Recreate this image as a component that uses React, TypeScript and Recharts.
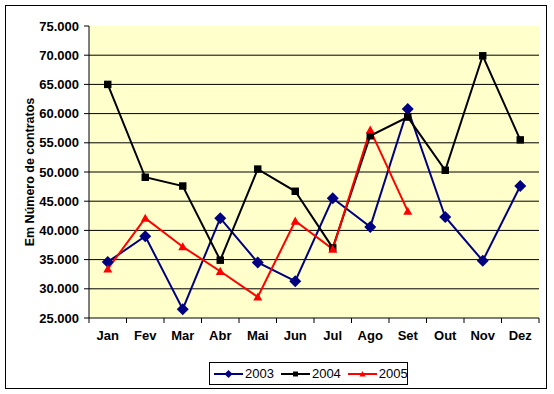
import React from "react";
import {
  LineChart,
  Line,
  XAxis,
  YAxis,
  CartesianGrid,
  ReferenceLine,
  Legend,
} from "recharts";

const months = ["Jan", "Fev", "Mar", "Abr", "Mai", "Jun", "Jul", "Ago", "Set", "Out", "Nov", "Dez"];
const v2003 = [34600, 39000, 26500, 42100, 34500, 31300, 45500, 40600, 60800, 42300, 34800, 47600];
const v2004 = [65000, 49100, 47600, 34900, 50500, 46700, 37000, 56200, 59400, 50300, 69900, 55500];
const v2005 = [33400, 42100, 37200, 33000, 28600, 41600, 36800, 57200, 43300, null, null, null];
const yTicks = [25000, 30000, 35000, 40000, 45000, 50000, 55000, 60000, 65000, 70000, 75000];
const gridValues = [30000, 35000, 40000, 45000, 50000, 55000, 60000, 65000, 70000];

const series = [
  { key: "2003", color: "#000080", shape: "diamond" },
  { key: "2004", color: "#000000", shape: "square" },
  { key: "2005", color: "#FF0000", shape: "triangle" },
];

const data = months.map((m, i) => ({
  month: m,
  "2003": v2003[i],
  "2004": v2004[i],
  "2005": v2005[i],
}));

const W = 554;
const H = 394;
const MARGIN = { top: 26, right: 15, left: 0, bottom: 0 };
const Y_W = 89;
const X_H = 76;
const BAND = (W - MARGIN.left - MARGIN.right - Y_W) / months.length;
const FONT = "Arial, 'Liberation Sans', sans-serif";

const fmt = (v: number) => {
  const s = String(v);
  return s.length > 3 ? s.slice(0, s.length - 3) + "." + s.slice(-3) : s;
};

function Marker({ shape, color, cx, cy, s }: any) {
  if (shape === "diamond") {
    return <polygon points={`${cx},${cy - s} ${cx + s},${cy} ${cx},${cy + s} ${cx - s},${cy}`} fill={color} />;
  }
  if (shape === "square") {
    const h = s * 0.62;
    return <rect x={cx - h} y={cy - h} width={h * 2} height={h * 2} fill={color} />;
  }
  const h = s * 0.75;
  return <polygon points={`${cx},${cy - h} ${cx + h},${cy + h * 0.8} ${cx - h},${cy + h * 0.8}`} fill={color} />;
}

const makeDot = (shape: string, color: string) => (props: any) => {
  const { cx, cy, index, value } = props;
  if (cx == null || cy == null || value == null) return <g key={`n-${index}`} />;
  return (
    <g key={`d-${shape}-${index}`}>
      <Marker shape={shape} color={color} cx={cx} cy={cy} s={6} />
    </g>
  );
};

function MonthTick(props: any) {
  const { x, y, payload, index } = props;
  return (
    <g>
      <line x1={x - BAND / 2} y1={y} x2={x - BAND / 2} y2={y + 5} stroke="#000" />
      {index === months.length - 1 && (
        <line x1={x + BAND / 2} y1={y} x2={x + BAND / 2} y2={y + 5} stroke="#000" />
      )}
      <text x={x} y={y + 22} textAnchor="middle" fontFamily={FONT} fontWeight="bold" fontSize={13} fill="#000">
        {payload.value}
      </text>
    </g>
  );
}

function LegendBox() {
  return (
    <div
      style={{
        width: 199,
        height: 23,
        boxSizing: "border-box",
        border: "1px solid #000",
        background: "#fff",
        display: "flex",
        alignItems: "center",
        paddingLeft: 4,
        fontFamily: FONT,
        fontSize: 13,
        color: "#000",
      }}
    >
      {series.map((s) => (
        <div key={s.key} style={{ display: "flex", alignItems: "center", marginRight: 7 }}>
          <svg width={29} height={12} style={{ marginRight: 2 }}>
            <line x1={0} y1={6} x2={29} y2={6} stroke={s.color} strokeWidth={2} />
            <Marker shape={s.shape} color={s.color} cx={14.5} cy={6} s={4} />
          </svg>
          <span>{s.key}</span>
        </div>
      ))}
    </div>
  );
}

export default function App() {
  return (
    <div style={{ position: "absolute", left: 0, top: 0, width: W, height: H, background: "#fff" }}>
      <div
        style={{
          position: "absolute",
          left: 5,
          top: 5,
          width: 542,
          height: 384,
          boxSizing: "border-box",
          border: "1px solid #000",
        }}
      />
      <div style={{ position: "absolute", left: 0, top: 0 }}>
        <LineChart width={W} height={H} data={data} margin={MARGIN}>
          <CartesianGrid horizontal={false} vertical={false} fill="#FFFFCC" fillOpacity={1} />
          {gridValues.map((v) => (
            <ReferenceLine key={v} y={v} stroke="#000" strokeWidth={1} ifOverflow="extendDomain" />
          ))}
          <XAxis
            dataKey="month"
            height={X_H}
            tickSize={0}
            tickMargin={0}
            padding={{ left: BAND / 2, right: BAND / 2 }}
            axisLine={{ stroke: "#000" }}
            tick={<MonthTick />}
            interval={0}
          />
          <YAxis
            width={Y_W}
            domain={[25000, 75000]}
            ticks={yTicks}
            tickFormatter={fmt}
            tickSize={5}
            tickMargin={5}
            axisLine={{ stroke: "#000" }}
            tickLine={{ stroke: "#000" }}
            tick={{ fontFamily: FONT, fontWeight: "bold", fontSize: 13, fill: "#000" }}
            label={{
              content: (p: any) => {
                const vb = p.viewBox;
                const cx = vb.x + 30;
                const cy = vb.y + vb.height / 2;
                return (
                  <text
                    x={cx}
                    y={cy}
                    transform={`rotate(-90 ${cx} ${cy})`}
                    textAnchor="middle"
                    dominantBaseline="central"
                    fontFamily={FONT}
                    fontWeight="bold"
                    fontSize={12.5}
                    fill="#000"
                  >
                    Em Número de contratos
                  </text>
                );
              },
            }}
          />
          <Legend
            verticalAlign="middle"
            layout="horizontal"
            wrapperStyle={{ left: 209, top: 362, width: 199, height: 23 }}
            content={() => <LegendBox />}
          />
          {series.map((s) => (
            <Line
              key={s.key}
              dataKey={s.key}
              stroke={s.color}
              strokeWidth={2}
              dot={makeDot(s.shape, s.color)}
              activeDot={false}
              isAnimationActive={false}
              type="linear"
            />
          ))}
        </LineChart>
      </div>
    </div>
  );
}
